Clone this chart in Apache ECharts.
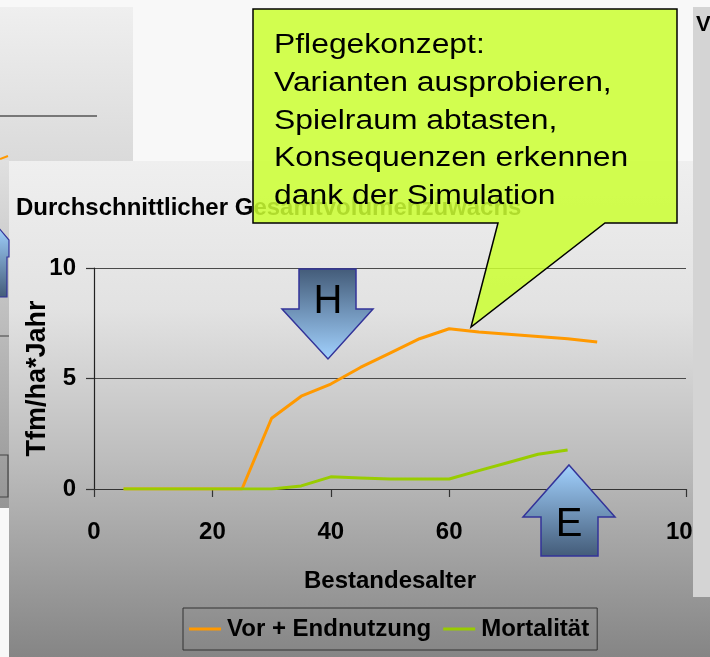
<!DOCTYPE html>
<html><head><meta charset="utf-8">
<script src="https://cdn.jsdelivr.net/npm/echarts@6/dist/echarts.min.js"></script>
<style>html,body{margin:0;padding:0;background:#f8f8f8}#c{width:710px;height:657px}</style>
</head><body><div id="c"></div>
<script>
const chartTitle = 'Durchschnittlicher Gesamtvolumenzuwachs';
const xAxisName = 'Bestandesalter';
const yAxisName = 'Tfm/ha*Jahr';
const seriesNames = ['Vor + Endnutzung', 'Mortalität'];
const ages = [5, 10, 15, 20, 25, 30, 35, 40, 45, 50, 55, 60, 65, 70, 75, 80, 85];
const vorEndnutzung = [0, 0, 0, 0, 0, 3.2, 4.2, 4.75, 5.5, 6.15, 6.8, 7.25, 7.1, 7.0, 6.9, 6.8, 6.65];
const mortalitaet = [0, 0, 0, 0, 0, 0, 0.14, 0.55, 0.5, 0.45, 0.45, 0.45, 0.83, 1.2, 1.57, 1.76, null];
const xMin = 0, xMax = 100, xStep = 20;
const yMin = 0, yMax = 10, yStep = 5;
const calloutLines = ['Pflegekonzept:', 'Varianten ausprobieren,', 'Spielraum abtasten,', 'Konsequenzen erkennen', 'dank der Simulation'];
const arrowLetters = ['H', 'E'];
const sideLetter = 'V';

const FONT = '"Liberation Sans", Arial, Helvetica, sans-serif';
const toPairs = (xs, ys) => xs.map((x, i) => [x, ys[i]]).filter(p => p[1] !== null);

const vgrad = (stops) => ({type: 'linear', x: 0, y: 0, x2: 0, y2: 1,
  colorStops: stops.map(s => ({offset: s[0], color: s[1]}))});
const blueDown = vgrad([[0, '#435b78'], [1, '#a2d2ff']]);
const blueUp = vgrad([[0, '#a2d2ff'], [1, '#435b78']]);

const chart = echarts.init(document.getElementById('c'), null, {renderer: 'canvas'});
chart.setOption({
  backgroundColor: '#f8f8f8',
  animation: false,
  title: {
    text: chartTitle, left: 16, top: 196, padding: 0, z: 6,
    textStyle: {fontFamily: FONT, fontWeight: 'bold', fontSize: 24, color: '#000'}
  },
  legend: {
    data: seriesNames, left: 183, top: 608, orient: 'horizontal',
    icon: 'rect', itemWidth: 32, itemHeight: 3, itemGap: 12,
    borderColor: '#333', borderWidth: 1, padding: [8, 8, 8, 6],
    textStyle: {fontFamily: FONT, fontWeight: 'bold', fontSize: 24, color: '#000', lineHeight: 26, padding: [0, 0, 0, 1]}
  },
  grid: {left: 94, right: 24, top: 268, bottom: 168, containLabel: false},
  xAxis: {
    type: 'value', min: xMin, max: xMax, interval: xStep,
    name: xAxisName, nameLocation: 'middle', nameGap: 80,
    nameTextStyle: {fontFamily: FONT, fontWeight: 'bold', fontSize: 24, color: '#000'},
    axisLine: {show: true, lineStyle: {color: '#333', width: 1.2}},
    axisTick: {show: true, length: 8, lineStyle: {color: '#333', width: 1.2}},
    axisLabel: {margin: 31, fontFamily: FONT, fontWeight: 'bold', fontSize: 24, color: '#000', showMaxLabel: true},
    splitLine: {show: false}
  },
  yAxis: {
    type: 'value', min: yMin, max: yMax, interval: yStep,
    name: yAxisName, nameLocation: 'middle', nameGap: 43, nameRotate: 90, nameMoveOverlap: false,
    nameTextStyle: {fontFamily: FONT, fontWeight: 'bold', fontSize: 27, color: '#000'},
    axisLine: {show: true, lineStyle: {color: '#222', width: 1.2}},
    axisTick: {show: true, length: 8, lineStyle: {color: '#333', width: 1.2}},
    axisLabel: {margin: 18, fontFamily: FONT, fontWeight: 'bold', fontSize: 24, color: '#000'},
    splitLine: {show: true, lineStyle: {color: '#4a4a4a', width: 1.2}}
  },
  series: [
    {name: seriesNames[0], type: 'line', data: toPairs(ages, vorEndnutzung), showSymbol: false, symbol: 'none',
     lineStyle: {color: '#ff9900', width: 3}, itemStyle: {color: '#ff9900'}, z: 3},
    {name: seriesNames[1], type: 'line', data: toPairs(ages, mortalitaet), showSymbol: false, symbol: 'none',
     lineStyle: {color: '#99cc00', width: 3}, itemStyle: {color: '#99cc00'}, z: 4}
  ],
  graphic: [
    // back-left panel
    {type: 'rect', z: -10, silent: true, shape: {x: 0, y: 7, width: 133, height: 154},
     style: {fill: vgrad([[0, '#efefef'], [1, '#dadada']])}},
    {type: 'line', z: -9, silent: true, shape: {x1: 0, y1: 116, x2: 97, y2: 116}, style: {stroke: '#555', lineWidth: 1.5}},
    {type: 'line', z: -9, silent: true, shape: {x1: 0, y1: 159, x2: 8, y2: 156}, style: {stroke: '#ff9900', lineWidth: 2}},
    // left strip panel
    {type: 'rect', z: -10, silent: true, shape: {x: 0, y: 160, width: 9, height: 348},
     style: {fill: vgrad([[0, '#e0e0e0'], [1, '#959595']])}},
    {type: 'polygon', z: -9, silent: true, shape: {points: [[-2, 227], [9, 240], [9, 257], [7, 257], [7, 297], [-2, 297]]},
     style: {fill: blueUp, stroke: '#333399', lineWidth: 1.2}},
    {type: 'line', z: -9, silent: true, shape: {x1: 0, y1: 336, x2: 9, y2: 336}, style: {stroke: '#555', lineWidth: 1.2}},
    {type: 'rect', z: -9, silent: true, shape: {x: -5, y: 455, width: 13, height: 42},
     style: {fill: 'none', stroke: '#444', lineWidth: 1.2}},
    // main panel
    {type: 'rect', z: -10, silent: true, shape: {x: 9, y: 161, width: 701, height: 496},
     style: {fill: vgrad([[0, '#efefef'], [0.3, '#e2e2e2'], [0.6, '#bdbdbd'], [1, '#858585']])}},
    // right panel (drawn on top, clips the last tick label)
    {type: 'rect', z: 200, silent: true, shape: {x: 693, y: 7, width: 17, height: 590}, style: {fill: '#d4d4d4'}},
    {type: 'text', z: 201, silent: true, x: 696, y: 14,
     style: {text: sideLetter, fontFamily: FONT, fontWeight: 'bold', fontSize: 22, fill: '#000', verticalAlign: 'top', textVerticalAlign: 'top'}},
    // callout
    {type: 'polygon', z: 100, silent: true,
     shape: {points: [[253, 9], [677, 9], [677, 223], [605, 223], [471, 327], [498, 223], [253, 223]]},
     style: {fill: 'rgba(204,255,51,0.86)', stroke: '#000', lineWidth: 1.5, lineJoin: 'miter'}},
    {type: 'text', z: 101, silent: true, x: 274, y: 27, scaleX: 1.18, scaleY: 1.03,
     style: {text: calloutLines.join('\n'), fontFamily: FONT, fontSize: 27, lineHeight: 36.5, fill: '#000',
             verticalAlign: 'top', textVerticalAlign: 'top', align: 'left', textAlign: 'left'}},
    // H arrow (down)
    {type: 'polygon', z: 90, silent: true,
     shape: {points: [[299, 269], [356, 269], [356, 309], [373, 309], [328, 359], [282, 309], [299, 309]]},
     style: {fill: blueDown, stroke: '#333399', lineWidth: 1.5}},
    {type: 'text', z: 91, silent: true, x: 328, y: 302,
     style: {text: arrowLetters[0], fontFamily: FONT, fontSize: 40, fill: '#000',
             align: 'center', textAlign: 'center', verticalAlign: 'middle', textVerticalAlign: 'middle'}},
    // E arrow (up)
    {type: 'polygon', z: 90, silent: true,
     shape: {points: [[569, 465], [615, 517], [598, 517], [598, 556], [541, 556], [541, 517], [523, 517]]},
     style: {fill: blueUp, stroke: '#333399', lineWidth: 1.5}},
    {type: 'text', z: 91, silent: true, x: 569, y: 525,
     style: {text: arrowLetters[1], fontFamily: FONT, fontSize: 40, fill: '#000',
             align: 'center', textAlign: 'center', verticalAlign: 'middle', textVerticalAlign: 'middle'}}
  ]
});
</script></body></html>
